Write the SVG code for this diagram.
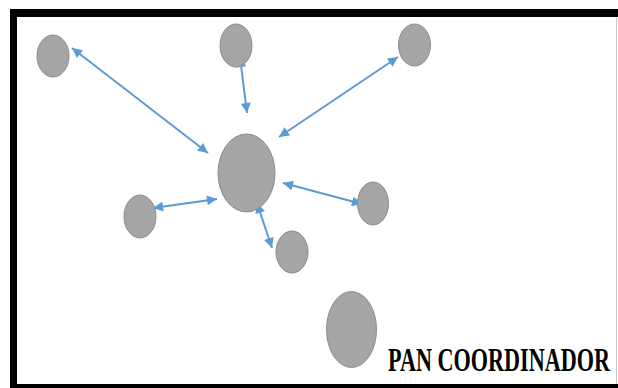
<svg xmlns="http://www.w3.org/2000/svg" width="618" height="388" viewBox="0 0 618 388">
<style>
.node{fill:#a5a5a5;stroke:#8c8c8c;stroke-width:1}
.conn{stroke:#5b9bd5;stroke-width:2;fill:none;marker-start:url(#ah);marker-end:url(#ah)}
.label{font-family:"Liberation Serif","Times New Roman",serif;font-weight:bold;fill:#000}
</style>
<defs>
<marker id="ah" viewBox="0 0 10 10" refX="10" refY="5" markerWidth="12" markerHeight="10" markerUnits="userSpaceOnUse" orient="auto-start-reverse">
<path d="M0,0 L10,5 L0,10 Z" fill="#5b9bd5"/>
</marker>
</defs>
<rect x="0" y="0" width="618" height="388" fill="#fff"/>
<g id="frame">
<rect x="10" y="9" width="608" height="8" fill="#000"/>
<rect x="10" y="9" width="7" height="379" fill="#000"/>
<rect x="10" y="384" width="608" height="4" fill="#000"/>
<line x1="616.5" y1="17" x2="616.5" y2="384" stroke="#c8c8c8" stroke-width="1"/>
</g>
<g id="connectors">
<line class="conn" x1="72" y1="48" x2="208" y2="153"/>
<line class="conn" x1="240" y1="57" x2="247" y2="113"/>
<line class="conn" x1="398" y1="57" x2="279" y2="137"/>
<line class="conn" x1="153" y1="208" x2="217" y2="199"/>
<line class="conn" x1="283" y1="183" x2="362" y2="204"/>
<line class="conn" x1="257" y1="203" x2="272" y2="248"/>
</g>
<g id="n-topleft"><ellipse class="node" cx="53" cy="56" rx="16" ry="21"/></g>
<g id="n-topmid"><ellipse class="node" cx="236" cy="45.5" rx="16" ry="21.5"/></g>
<g id="n-topright"><ellipse class="node" cx="414.5" cy="45" rx="16" ry="21"/></g>
<g id="n-center"><ellipse class="node" cx="246.5" cy="173" rx="28.5" ry="39"/></g>
<g id="n-left"><ellipse class="node" cx="140" cy="216.5" rx="16" ry="21.5"/></g>
<g id="n-right"><ellipse class="node" cx="373" cy="203.5" rx="15.5" ry="21.5"/></g>
<g id="n-bottom"><ellipse class="node" cx="292" cy="252" rx="16" ry="21"/></g>
<g id="legend">
<ellipse class="node" cx="351.5" cy="329.5" rx="25" ry="38"/>
<text class="label" transform="translate(388,371) scale(1,1.55)" x="0" y="0" font-size="21.5" textLength="222" lengthAdjust="spacingAndGlyphs">PAN COORDINADOR</text>
</g>
</svg>
